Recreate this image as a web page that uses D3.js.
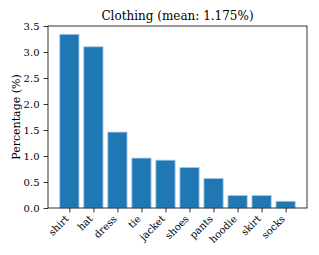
<!DOCTYPE html>
<html>
<head>
<meta charset="utf-8">
<script src="https://cdn.jsdelivr.net/npm/d3@7"></script>
<style>
   body { margin: 0; background: #fff; }
   svg text { font-family: "DejaVu Serif", serif; fill: #000; }
</style>
</head>
<body>
<svg id="chart" width="319" height="255"></svg>
<script>
const categories = [ 'shirt', 'hat', 'dress', 'tie', 'jacket', 'shoes', 'pants', 'hoodie', 'skirt', 'socks' ];
const percentages = [ 3.34, 3.10, 1.46, 0.96, 0.92, 0.78, 0.57, 0.24, 0.24, 0.13 ];
const yTicks = [ 0, 0.5, 1, 1.5, 2, 2.5, 3, 3.5 ];
const chartTitle = 'Clothing (mean: 1.175%)';

const svg = d3.select( '#chart' );
const plot = { left: 48, right: 307, top: 26, bottom: 208 };

// matplotlib style: bar centres at integers, 0.8 width, 5% margins
const x = d3.scaleLinear().domain( [ -0.89, categories.length - 1 + 0.89 ] ).range( [ plot.left, plot.right ] );
const y = d3.scaleLinear().domain( [ 0, 3.5 ] ).range( [ plot.bottom, plot.top ] );

svg.append( 'g' )
   .selectAll( 'rect' )
   .data( percentages )
   .join( 'rect' )
   .attr( 'x', ( d, i ) => x( i - 0.4 ) )
   .attr( 'width', x( 0.4 ) - x( -0.4 ) )
   .attr( 'y', d => y( d ) )
   .attr( 'height', d => y( 0 ) - y( d ) )
   .attr( 'fill', '#1f77b4' )
   .attr( 'stroke', '#a9cbe6' )
   .attr( 'stroke-width', 0.8 );

const yAxis = svg.append( 'g' )
   .attr( 'transform', `translate(${plot.left},0)` )
   .call( d3.axisLeft( y ).tickValues( yTicks ).tickFormat( d3.format( '.1f' ) ).tickSize( 4.5 ).tickPadding( 4 ) );

const xAxis = svg.append( 'g' )
   .attr( 'transform', `translate(0,${plot.bottom})` )
   .call( d3.axisBottom( x ).tickValues( d3.range( categories.length ) ).tickFormat( i => categories[ i ] ).tickSize( 4.5 ) );

xAxis.selectAll( 'text' )
   .attr( 'text-anchor', 'end' )
   .attr( 'dy', null )
   .attr( 'y', 0 )
   .attr( 'transform', 'translate(-0.5,11.5) rotate(-45)' );

[ yAxis, xAxis ].forEach( g => {
   g.select( '.domain' ).remove();
   g.selectAll( 'text' ).style( 'font-size', '10px' ).style( 'font-family', '"DejaVu Serif", serif' );
   g.selectAll( 'line' ).attr( 'stroke', '#000' ).attr( 'stroke-width', 0.8 );
} );

svg.append( 'rect' )
   .attr( 'x', plot.left ).attr( 'y', plot.top )
   .attr( 'width', plot.right - plot.left ).attr( 'height', plot.bottom - plot.top )
   .attr( 'fill', 'none' ).attr( 'stroke', '#000' ).attr( 'stroke-width', 0.8 );

svg.append( 'text' )
   .attr( 'x', ( plot.left + plot.right ) / 2 ).attr( 'y', plot.top - 6 )
   .attr( 'text-anchor', 'middle' )
   .style( 'font-size', '12px' )
   .text( chartTitle );

svg.append( 'text' )
   .attr( 'transform', `translate(19.5,${( plot.top + plot.bottom ) / 2}) rotate(-90)` )
   .attr( 'text-anchor', 'middle' )
   .style( 'font-size', '11px' )
   .text( 'Percentage (%)' );
</script>
</body>
</html>
